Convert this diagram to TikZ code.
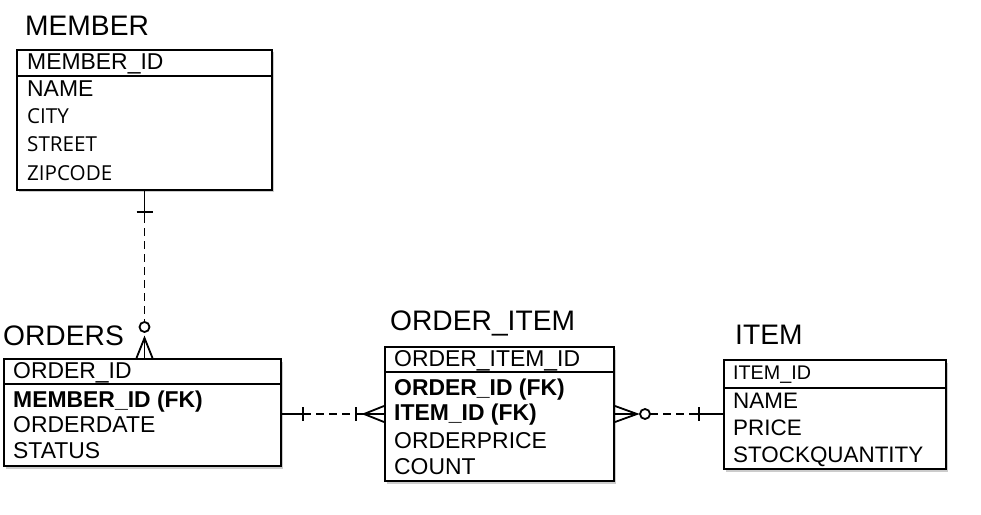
\documentclass[tikz,border=0pt]{standalone}
\usepackage{fontspec}
\setmainfont{Liberation Sans}
\newfontfamily\opensans{Open Sans}
\usetikzlibrary{shadows}
\begin{document}
\begin{tikzpicture}[x=1bp,y=-1bp,
  tbl/.style={draw, line width=2bp, rectangle, inner sep=0pt, fill=white, anchor=north west,
    drop shadow={shadow xshift=2bp, shadow yshift=-2.5bp, fill=black, opacity=0.2}},
  hdr/.style={line width=1.8bp},
  ttl/.style={anchor=base west, inner sep=0pt, font=\fontsize{28.3}{28}\selectfont},
  fld/.style={anchor=base west, inner sep=0pt, font=\fontsize{23}{24}\selectfont},
  fldi/.style={anchor=base west, inner sep=0pt, font=\fontsize{22.5}{24}\selectfont},
  fldo/.style={anchor=base west, inner sep=0pt, font=\opensans\fontsize{20.7}{22}\selectfont},
  fk/.style={anchor=base west, inner sep=0pt, font=\fontsize{23}{24}\selectfont\bfseries},
  rel/.style={line width=1.8bp},
  reldash/.style={line width=1.8bp, dash pattern=on 8bp off 5bp}]
\useasboundingbox (0,0) rectangle (981,515);

% tables
\node[tbl, minimum width=255bp, minimum height=140bp] (member) at (16,49) {};
\node[tbl, minimum width=277bp, minimum height=107bp] (orders) at (3,358) {};
\node[tbl, minimum width=229bp, minimum height=134bp] (oi) at (384,346) {};
\node[tbl, minimum width=222bp, minimum height=109bp] (item) at (723,359) {};

% header separators
\draw[hdr] ([yshift=-27bp]member.north west) -- ([yshift=-27bp]member.north east);
\draw[hdr] ([yshift=-26bp]orders.north west) -- ([yshift=-26bp]orders.north east);
\draw[hdr] ([yshift=-26bp]oi.north west) -- ([yshift=-26bp]oi.north east);
\draw[hdr] ([yshift=-29bp]item.north west) -- ([yshift=-29bp]item.north east);

% titles
\node[ttl] (tmember) at (25,36) {MEMBER};
\node[ttl] (torders) at (3,346) {ORDERS};
\node[ttl] (toi) at (390,331) {ORDER\_ITEM};
\node[ttl] (titem) at (735,345) {ITEM};

% MEMBER fields
\node[fld] (m1) at (27,70) {MEMBER\_ID};
\node[fld] (m2) at (27,97) {NAME};
\node[fldo] (m3) at (27,124) {CITY};
\node[fldo] (m4) at (27,152) {STREET};
\node[fldo] (m5) at (27,181) {ZIPCODE};

% ORDERS fields
\node[fld] (o1) at (13,379) {ORDER\_ID};
\node[fk] (o2) at (13,407) {MEMBER\_ID (FK)};
\node[fld] (o3) at (13,432) {ORDERDATE};
\node[fld] (o4) at (13,458) {STATUS};

% ORDER_ITEM fields
\node[fld] (i1) at (394,367) {ORDER\_ITEM\_ID};
\node[fk] (i2) at (394,395) {ORDER\_ID (FK)};
\node[fk] (i3) at (394,420) {ITEM\_ID (FK)};
\node[fld] (i4) at (394,448) {ORDERPRICE};
\node[fld] (i5) at (394,474) {COUNT};

% ITEM fields
\node[fldi, font=\fontsize{19.8}{20}\selectfont] (t1) at (733,380) {ITEM\_ID};
\node[fldi] (t2) at (733,408) {NAME};
\node[fldi] (t3) at (733,435) {PRICE};
\node[fldi] (t4) at (733,462) {STOCKQUANTITY};

% connector MEMBER -- ORDERS
\coordinate (ca) at (member.south);
\coordinate (cb) at (member.south |- orders.north);
\draw[rel] (ca) -- ([yshift=-24bp]ca);
\draw[rel] ([shift={(-8,21)}]ca) -- ([shift={(8,21)}]ca);
\draw[reldash] ([yshift=-24bp]ca) -- ([yshift=36bp]cb);
\draw[rel, fill=white] ([yshift=31bp]cb) circle[radius=5bp];
\draw[rel] ([xshift=-8bp]cb) -- ([yshift=20bp]cb) -- ([xshift=8bp]cb);
\draw[rel] ([yshift=20bp]cb) -- (cb);

% connector ORDERS -- ORDER_ITEM
\coordinate (da) at (oi.west -| orders.east);
\coordinate (db) at (oi.west);
\draw[rel] (da) -- ([xshift=21bp]da);
\draw[rel] ([shift={(21,-7)}]da) -- ([shift={(21,7)}]da);
\draw[reldash] ([xshift=21bp]da) -- ([xshift=-28bp]db);
\draw[rel] ([shift={(-28,-7)}]db) -- ([shift={(-28,7)}]db);
\draw[rel] ([xshift=-28bp]db) -- (db);
\draw[rel] ([yshift=8bp]db) -- ([xshift=-20bp]db) -- ([yshift=-8bp]db);

% connector ORDER_ITEM -- ITEM
\coordinate (ea) at (oi.east);
\coordinate (eb) at (oi.east -| item.west);
\draw[rel] ([yshift=8bp]ea) -- ([xshift=22bp]ea) -- ([yshift=-8bp]ea);
\draw[rel] (ea) -- ([xshift=22bp]ea);
\draw[rel, fill=white] ([xshift=30bp]ea) circle[radius=5bp];
\draw[reldash] ([xshift=35bp]ea) -- ([xshift=-24bp]eb);
\draw[rel] ([shift={(-24,-7)}]eb) -- ([shift={(-24,7)}]eb);
\draw[rel] ([xshift=-30bp]eb) -- (eb);
\end{tikzpicture}
\end{document}
